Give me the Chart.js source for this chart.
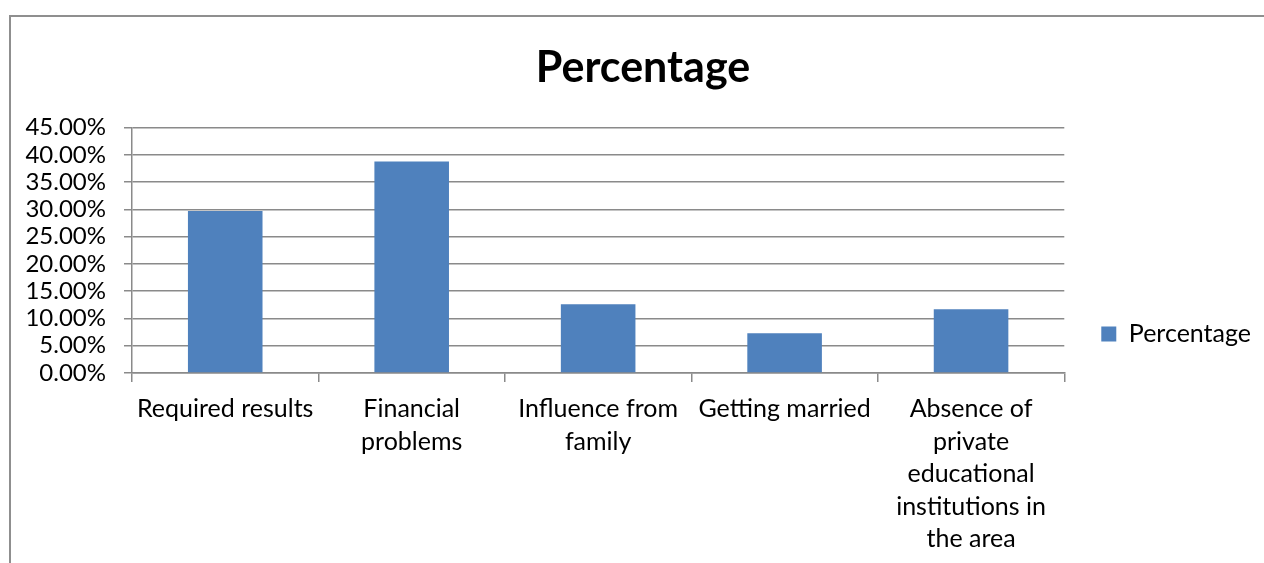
<!DOCTYPE html>
<html>
<head>
<meta charset="utf-8">
<title>Percentage</title>
<script src="https://cdn.jsdelivr.net/npm/chart.js@4.4.1/dist/chart.umd.min.js"></script>
<style>
  html, body { margin: 0; padding: 0; background: #fff; overflow: hidden; }
  #frame {
    position: absolute; left: 9px; top: 15px;
    width: 2000px; height: 2000px;
    border-left: 2px solid #8f8f8f; border-top: 2px solid #8f8f8f;
  }
  #wrap { position: absolute; left: 0; top: 0; width: 1264px; height: 563px; }
</style>
</head>
<body>
<div id="frame"></div>
<div id="wrap"><canvas id="chart"></canvas></div>
<script>
// reasons and their share of responses
const categories = [
  ['Required results'],
  ['Financial', 'problems'],
  ['Influence from', 'family'],
  ['Getting married'],
  ['Absence of', 'private', 'educational', 'institutions in', 'the area']
];
const percentages = [29.7, 38.8, 12.6, 7.3, 11.7];
const seriesName = 'Percentage';
const yMin = 0;
const yMax = 45;
const yStep = 5;

const gridColor = '#8a8a8a';
const barColor = '#4f81bd';

Chart.defaults.font.family = 'Lato, "Liberation Sans", sans-serif';
Chart.defaults.color = '#000';

const ctx = document.getElementById('chart').getContext('2d');

new Chart(ctx, {
  type: 'bar',
  data: {
    labels: categories,
    datasets: [{
      label: seriesName,
      data: percentages,
      backgroundColor: barColor,
      borderWidth: 0,
      barPercentage: 0.4,
      categoryPercentage: 1.0
    }]
  },
  options: {
    responsive: true,
    maintainAspectRatio: false,
    animation: false,
    // left padding only nudges the centred title to the right
    layout: { padding: { left: 25, right: 3, top: 0, bottom: 0 } },
    plugins: {
      title: {
        display: true,
        text: seriesName,
        font: { size: 43, weight: 'bold' },
        color: '#000',
        padding: { top: 42, bottom: 34 }
      },
      legend: {
        position: 'right',
        // empty title only pushes the entry down a bit
        title: { display: true, text: '', font: { size: 1, lineHeight: 1 }, padding: { top: 104, bottom: 0 } },
        labels: {
          boxWidth: 15,
          boxHeight: 15,
          padding: 37,
          font: { size: 25 },
          color: '#000'
        }
      },
      tooltip: { enabled: false }
    },
    scales: {
      x: {
        grid: {
          display: true,
          drawOnChartArea: false,
          drawTicks: true,
          tickLength: 9,
          color: gridColor,
          lineWidth: 1.5
        },
        border: { display: true, color: gridColor, width: 1.5 },
        ticks: {
          font: { size: 25, lineHeight: 1.3 },
          padding: 11,
          maxRotation: 0,
          autoSkip: false
        },
        afterFit: scale => { scale.height = 190; }
      },
      y: {
        min: yMin,
        max: yMax,
        grid: {
          color: gridColor,
          lineWidth: 1.5,
          tickLength: 8
        },
        border: { display: true, color: gridColor, width: 1.5 },
        ticks: {
          stepSize: yStep,
          autoSkip: false,
          font: { size: 24 },
          padding: 18,
          callback: v => v.toFixed(2) + '%'
        },
        afterFit: scale => { scale.width = 107; }
      }
    }
  }
});
</script>
</body>
</html>
